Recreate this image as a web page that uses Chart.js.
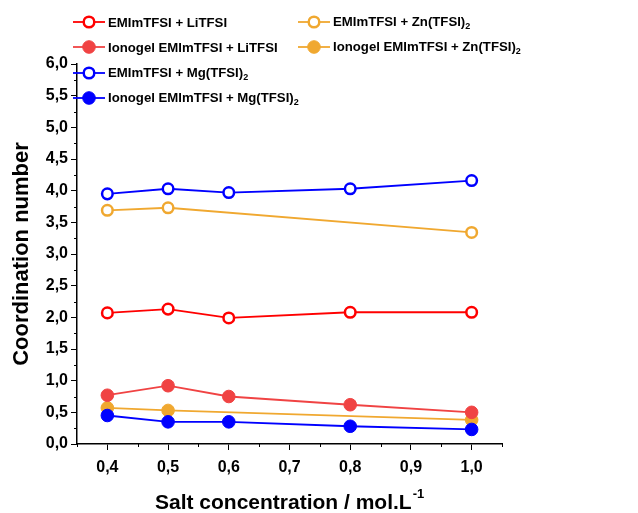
<!DOCTYPE html>
<html>
<head>
<meta charset="utf-8">
<script src="https://cdn.jsdelivr.net/npm/chart.js@4"></script>
<style>
  body { margin: 0; background: #fff; }
  #wrap { position: relative; width: 638px; height: 513px; }
  #legend { position: absolute; left: 0; top: 0; font: bold 13.2px "Liberation Sans", Arial, sans-serif; color: #000; }
  .item { position: absolute; height: 20px; display: flex; align-items: center; white-space: nowrap; }
  .item canvas { margin-right: 3px; }
  sub { font-size: 9px; vertical-align: -3px; }
</style>
</head>
<body>
<div id="wrap">
  <canvas id="chart" width="638" height="513"></canvas>
  <div id="legend"></div>
</div>
<script>
// data
const conc = [0.4, 0.5, 0.6, 0.8, 1.0];
const concZn = [0.4, 0.5, 1.0];
const liLiquid = [2.07, 2.13, 1.99, 2.08, 2.08];
const liIonogel = [0.77, 0.92, 0.75, 0.62, 0.50];
const mgLiquid = [3.95, 4.03, 3.97, 4.03, 4.16];
const mgIonogel = [0.45, 0.35, 0.35, 0.28, 0.23];
const znLiquid = [3.69, 3.73, 3.34];
const znIonogel = [0.57, 0.53, 0.38];
const xTicks = [0.4, 0.5, 0.6, 0.7, 0.8, 0.9, 1.0];
const yTicks = [0, 0.5, 1, 1.5, 2, 2.5, 3, 3.5, 4, 4.5, 5, 5.5, 6];

const RED = '#ff0000', LRED = '#f04343', ORANGE = '#f0a830', BLUE = '#0000ff';

function pts(xs, ys) {
    return xs.map((x, i) => ({ x: x, y: ys[i] }));
}

function series(label, xs, ys, color, open) {
    return {
        label: label,
        data: pts(xs, ys),
        borderColor: color,
        backgroundColor: open ? '#fff' : color,
        pointBackgroundColor: open ? '#fff' : color,
        pointBorderColor: color,
        pointBorderWidth: open ? 2.5 : 1,
        pointRadius: open ? 5.3 : 6.3,
        borderWidth: 1.8,
        tension: 0
    };
}

const datasets = [
    series('EMImTFSI + LiTFSI', conc, liLiquid, RED, true),
    series('Ionogel EMImTFSI + LiTFSI', conc, liIonogel, LRED, false),
    series('EMImTFSI + Mg(TFSI)2', conc, mgLiquid, BLUE, true),
    series('Ionogel EMImTFSI + Mg(TFSI)2', conc, mgIonogel, BLUE, false),
    series('EMImTFSI + Zn(TFSI)2', concZn, znLiquid, ORANGE, true),
    series('Ionogel EMImTFSI + Zn(TFSI)2', concZn, znIonogel, ORANGE, false)
];

const fmt = v => Number(v).toFixed(1).replace('.', ',');
const tickFont = { family: '"Liberation Sans", Arial, sans-serif', size: 16, weight: 'bold' };
const titleFont = { family: '"Liberation Sans", Arial, sans-serif', size: 22, weight: 'bold' };

// minor ticks halfway between the major ones
const minorTicks = {
    id: 'minorTicks',
    afterDraw(chart) {
        const c = chart.ctx;
        const xs = chart.scales.x, ys = chart.scales.y;
        c.save();
        c.strokeStyle = '#000';
        c.lineWidth = 1;
        c.beginPath();
        for (let v = 0.35; v <= 1.051; v += 0.1) {
            const px = Math.round(xs.getPixelForValue(v)) + 0.5;
            c.moveTo(px, xs.top);
            c.lineTo(px, xs.top + 3);
        }
        for (let v = 0.25; v < 6; v += 0.5) {
            const py = Math.round(ys.getPixelForValue(v)) + 0.5;
            c.moveTo(ys.right, py);
            c.lineTo(ys.right - 3, py);
        }
        c.stroke();
        c.restore();
    }
};

// x title with a superscript
const xTitle = {
    id: 'xTitle',
    afterDraw(chart) {
        const c = chart.ctx;
        c.save();
        c.fillStyle = '#000';
        c.font = 'bold 21px "Liberation Sans", Arial, sans-serif';
        const main = 'Salt concentration / mol.L';
        const w = c.measureText(main).width;
        const x0 = 155;
        c.textBaseline = 'alphabetic';
        c.fillText(main, x0, 509);
        c.font = 'bold 13px "Liberation Sans", Arial, sans-serif';
        c.fillText('-1', x0 + w + 1, 498);
        c.restore();
    }
};

const chart = new Chart(document.getElementById('chart'), {
    type: 'line',
    data: { datasets: datasets },
    options: {
        responsive: false,
        animation: false,
        layout: { padding: { top: 64, right: 136, left: 9, bottom: 0 } },
        plugins: { legend: { display: false }, tooltip: { enabled: false } },
        scales: {
            x: {
                type: 'linear',
                min: 0.35,
                max: 1.05,
                afterBuildTicks: s => { s.ticks = xTicks.map(v => ({ value: v })); },
                afterFit: s => { s.height = 69; },
                grid: { drawOnChartArea: false, color: '#000', tickLength: 6, tickColor: '#000' },
                border: { display: true, color: '#000', width: 1.5 },
                ticks: { color: '#000', font: tickFont, padding: 8, callback: v => fmt(v), maxRotation: 0 },
                title: { display: false }
            },
            y: {
                min: 0,
                max: 6,
                afterBuildTicks: s => { s.ticks = yTicks.map(v => ({ value: v })); },
                afterFit: s => { s.width = 68; },
                grid: { drawOnChartArea: false, color: '#000', tickLength: 6, tickColor: '#000' },
                border: { display: true, color: '#000', width: 1.5 },
                ticks: { color: '#000', font: tickFont, padding: 3, callback: v => fmt(v) },
                title: { display: true, text: 'Coordination number', color: '#000', font: titleFont, padding: { top: 0, bottom: 4 } }
            }
        }
    },
    plugins: [minorTicks, xTitle]
});

// legend laid out as in the figure: two columns
const legendPos = [
    [73, 12], [73, 37], [73, 63], [73, 88], [298, 12], [298, 37]
];
const legendEl = document.getElementById('legend');
datasets.forEach((d, i) => {
    const div = document.createElement('div');
    div.className = 'item';
    div.style.left = legendPos[i][0] + 'px';
    div.style.top = legendPos[i][1] + 'px';
    const cv = document.createElement('canvas');
    cv.width = 32; cv.height = 20;
    const g = cv.getContext('2d');
    g.strokeStyle = d.borderColor;
    g.lineWidth = 1.8;
    g.beginPath(); g.moveTo(0, 10); g.lineTo(32, 10); g.stroke();
    g.beginPath(); g.arc(16, 10, d.pointRadius, 0, Math.PI * 2);
    g.fillStyle = d.pointBackgroundColor; g.fill();
    g.lineWidth = d.pointBorderWidth; g.stroke();
    div.appendChild(cv);
    const span = document.createElement('span');
    span.innerHTML = d.label.replace(/\)2$/, ')<sub>2</sub>');
    div.appendChild(span);
    legendEl.appendChild(div);
});
</script>
</body>
</html>
